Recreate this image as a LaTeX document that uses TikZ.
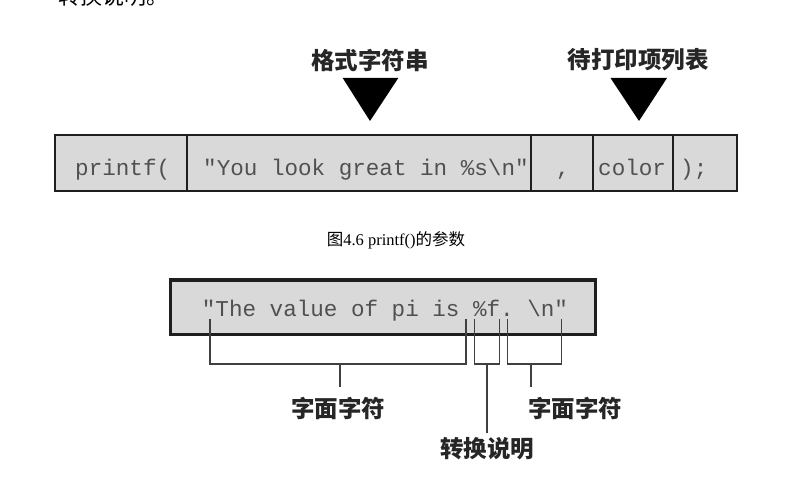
\documentclass[tikz,border=0pt]{standalone}
\usepackage{fontspec}
\setmonofont{Liberation Mono}
\newfontfamily\cjk{Noto Sans CJK SC}
\newfontfamily\tnr{Liberation Serif}
\definecolor{cellgray}{HTML}{D9D9D9}
\definecolor{codegray}{HTML}{505050}
\definecolor{edge}{HTML}{1E1E1E}
\definecolor{brk}{HTML}{404040}
\begin{document}
\begin{tikzpicture}[x=1pt,y=-1pt,
  code/.style={font=\ttfamily\fontsize{22.6}{24}\selectfont, text=codegray, inner sep=0pt, anchor=base west},
  lab/.style={font=\cjk\bfseries\fontsize{23.5}{26}\selectfont, inner sep=0pt, text=black!85},
  cellbox/.style={fill=cellgray, draw=edge, line width=2pt},
  pointer/.style={fill=black},
  bracket/.style={draw=brk, line width=1.4pt}]
\useasboundingbox (0,0) rectangle (792,494);
\clip (0,0) rectangle (792,494);
% cropped paragraph text at the top
\node[font=\cjk\fontsize{22}{24}\selectfont, inner sep=0pt] (frag) at (113,-4) {转换说明。};

% ---- top figure ----
\node[lab] (fmt) at (370,60) {格式字符串};
\node[lab] (lst) at (638,60) {待打印项列表};
\fill[pointer] (342.7,78) -- (398.3,78) -- (370,121) -- cycle;
\fill[pointer] (610.5,78) -- (667,78) -- (639,121) -- cycle;

\draw[cellbox] (55,135) rectangle (186.7,191);
\draw[cellbox] (186.7,135) rectangle (530.7,191);
\draw[cellbox] (530.7,135) rectangle (593.3,191);
\draw[cellbox] (593.3,135) rectangle (673.3,191);
\draw[cellbox] (673.3,135) rectangle (737,191);
\draw[edge, line width=2.6pt] (55,135) rectangle (737,191);

\node[code] (p1) at (75,176) {printf(};
\node[code] (p2) at (203,176) {"You look great in \%s\textbackslash n"};
\node[code] (p3) at (556,176) {,};
\node[code] (p4) at (598,176) {color};
\node[code] (p5) at (680,176) {);};

% caption
\node[inner sep=0pt, font=\fontsize{16.5}{18}\selectfont] (cap) at (396,240)
  {{\cjk 图}{\tnr 4.6 printf()}{\cjk 的参数}};

% ---- bottom figure ----
\draw[fill=cellgray, draw=edge, line width=3pt] (170,280) rectangle (595,334);
\node[code] (s) at (201.7,316.5) {"The value of pi is \%f. \textbackslash n"};

\coordinate (a1) at (210,319);
\coordinate (a2) at (466,319);
\coordinate (b1) at (474.3,319);
\coordinate (b2) at (499.3,319);
\coordinate (c1) at (507.3,319);
\coordinate (c2) at (561.7,319);
\coordinate (am) at (340,364);
\coordinate (bm) at (487,364);
\coordinate (cm) at (531,364);

\draw[bracket] (a1) |- (am) -| (a2);
\draw[bracket] (b1) |- (bm) -| (b2);
\draw[bracket] (c1) |- (cm) -| (c2);

\node[lab] (l1) at (338,408) {字面字符};
\node[lab] (l2) at (487,449) {转换说明};
\node[lab] (l3) at (575,408) {字面字符};

\draw[bracket] (am) -- (am |- 0,387);
\draw[bracket] (bm) -- (bm |- 0,433);
\draw[bracket] (cm) -- (cm |- 0,387);
\end{tikzpicture}
\end{document}
